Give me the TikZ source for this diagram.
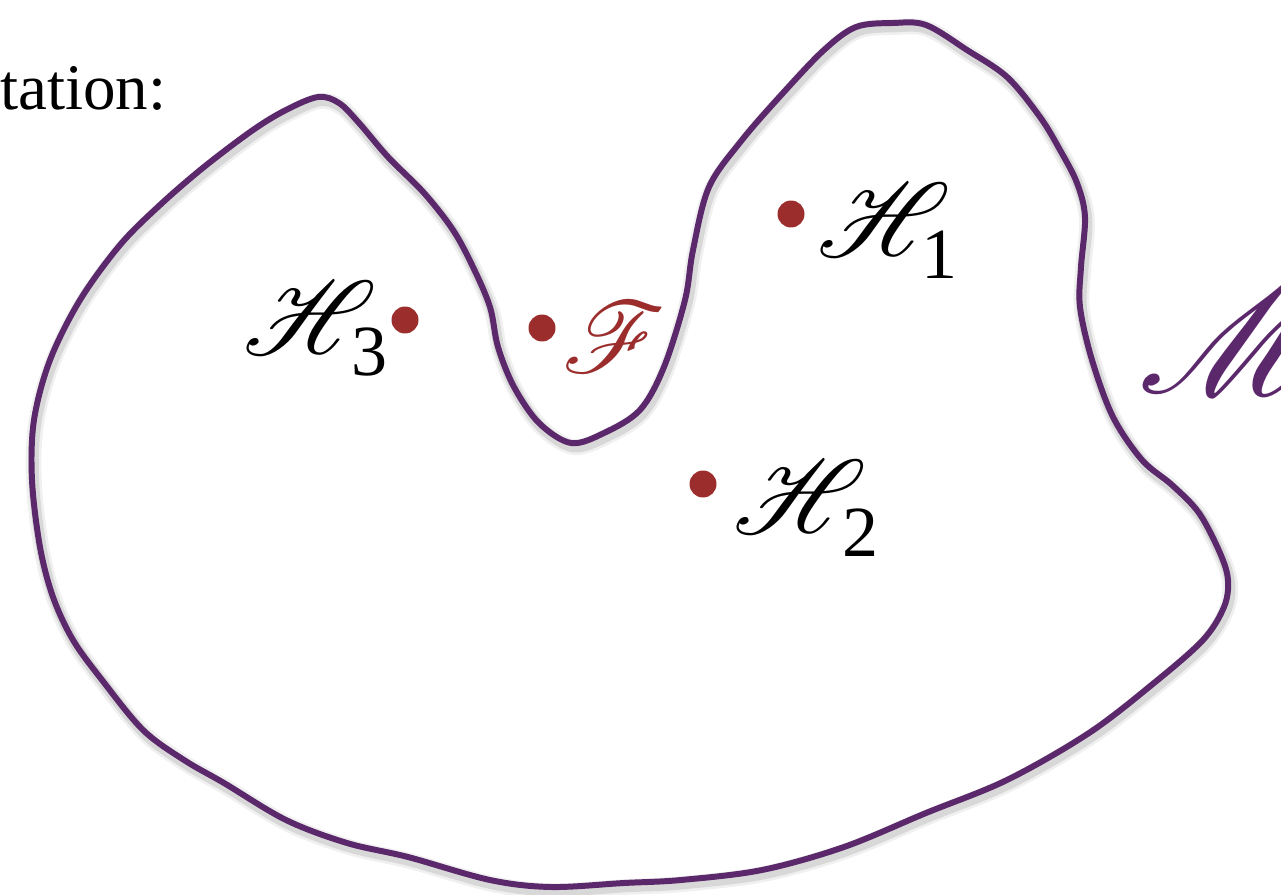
\documentclass[tikz,border=0pt]{standalone}
\usepackage{fontspec}
\setmainfont{Liberation Serif}
\usepackage{graphicx}
\usepackage{mathrsfs}
\definecolor{outl}{RGB}{91,40,107}
\definecolor{dotred}{RGB}{155,45,45}
\newcommand{\bigscr}[2]{\scalebox{#1}{\fontsize{24.88}{30}\selectfont$\mathscr{#2}$}}
\tikzset{
  dotnode/.style={circle, fill=dotred, inner sep=0pt, minimum size=0.54cm},
  scr/.style={inner sep=0pt},
  subnum/.style={font=\fontsize{41}{48}\selectfont, inner sep=0pt},
  outline/.style={draw=outl, line width=3.4pt, line join=round},
  shadowline/.style={draw=black, line width=6pt, line join=round},
  headtext/.style={font=\fontsize{37}{44}\selectfont, inner sep=0pt}
}
\begin{document}
\begin{tikzpicture}[x=0.02cm,y=-0.02cm]
\useasboundingbox (0,0) rectangle (1281,895);
\clip (0,0) rectangle (1281,895);
\def\blob{(32,480) (34,420) (50,360) (80,300) (120,245) (160,205) (204,167) (253,130) (286,110) (318,97) (339,103) (359,123) (388,157) (424,193) (453,230) (473,267) (490,307) (498,347) (514,387) (539,423) (571,443) (604,433) (640,410) (664,367) (685,300) (693,250) (709,187) (742,140) (783,93) (824,50) (856,27) (893,23) (926,25) (967,50) (1007,77) (1040,117) (1060,150) (1077,183) (1085,217) (1081,267) (1080,307) (1092,360) (1113,417) (1142,460) (1172,485) (1199,513) (1220,553) (1228,580) (1224,607) (1203,640) (1154,683) (1089,733) (1007,780) (926,813) (844,847) (762,870) (681,880) (624,883) (551,887) (490,880) (408,857) (347,843) (286,820) (224,783) (184,760) (143,730) (102,680) (73,640) (53,597) (40,547)}
% shadow
\begin{scope}[shift={(2,4)}]
  \draw[shadowline, opacity=0.06, line width=9pt] plot[smooth cycle, tension=0.55] coordinates {\blob};
  \draw[shadowline, opacity=0.10, line width=6pt] plot[smooth cycle, tension=0.55] coordinates {\blob};
\end{scope}
\draw[outline] plot[smooth cycle, tension=0.55] coordinates {\blob};
% text
\node[headtext, anchor=base west] (head) at (0,110) {tation:};
% points
\node[dotnode] (d1) at (791,214) {};
\node[dotnode] (d2) at (703,484) {};
\node[dotnode] (d3) at (405,320) {};
\node[dotnode] (df) at (542,328) {};
% labels
\node[scr] (h1) at (884,220) {\bigscr{2.4}{H}};
\node[subnum] (h1s) at (939,255) {1};
\node[scr] (h2) at (800,497) {\bigscr{2.4}{H}};
\node[subnum] (h2s) at (860,533) {2};
\node[scr] (h3) at (310,318) {\bigscr{2.4}{H}};
\node[subnum] (h3s) at (370,352) {3};
\node[scr, text=dotred] (f) at (614,337) {\bigscr{2.3}{F}};
\node[scr, text=outl, anchor=west] (m) at (1138,338) {\bigscr{3.6}{M}};
\end{tikzpicture}
\end{document}
